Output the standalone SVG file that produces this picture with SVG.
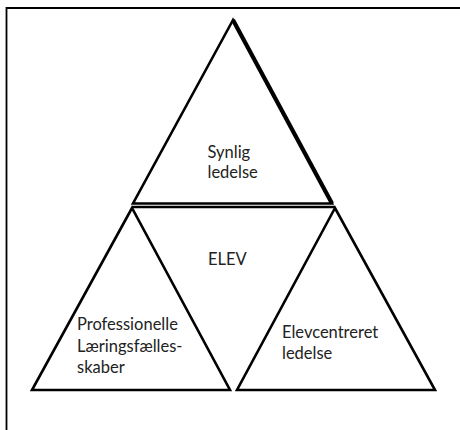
<svg xmlns="http://www.w3.org/2000/svg" width="460" height="430" viewBox="0 0 460 430">
<style>
.tri{fill:none;stroke:#000;stroke-width:2.6;stroke-linejoin:miter}
.lbl{font-family:Lato,"Open Sans","Liberation Sans",sans-serif;font-size:16.5px;fill:#222}
</style>
<rect x="0" y="0" width="460" height="430" fill="#fff"/>
<g id="frame"><path d="M6.5,430 V8 H460" fill="none" stroke="#000" stroke-width="1.8"/></g>
<g id="connectors"></g>
<g id="synlig">
<polygon class="tri" points="233,20 133,203.5 332,203.5"/>
<line x1="233" y1="20" x2="332" y2="203.5" stroke="#000" stroke-width="4.2"/>
<text class="lbl" x="207.5" y="158">Synlig</text>
<text class="lbl" x="207.5" y="178">ledelse</text>
</g>
<g id="elev">
<line x1="132" y1="207" x2="335" y2="207" stroke="#000" stroke-width="2.4"/>
<text class="lbl" x="208" y="265">ELEV</text>
</g>
<g id="professionelle">
<polygon class="tri" points="132,208 32,390 230,390"/>
<text class="lbl" x="77" y="330">Professionelle</text>
<text class="lbl" x="77" y="351.5">Læringsfælles-</text>
<text class="lbl" x="77" y="373">skaber</text>
</g>
<g id="elevcentreret">
<polygon class="tri" points="335,208 237,390 435,390"/>
<text class="lbl" x="282" y="338">Elevcentreret</text>
<text class="lbl" x="282" y="358.5">ledelse</text>
</g>
</svg>
